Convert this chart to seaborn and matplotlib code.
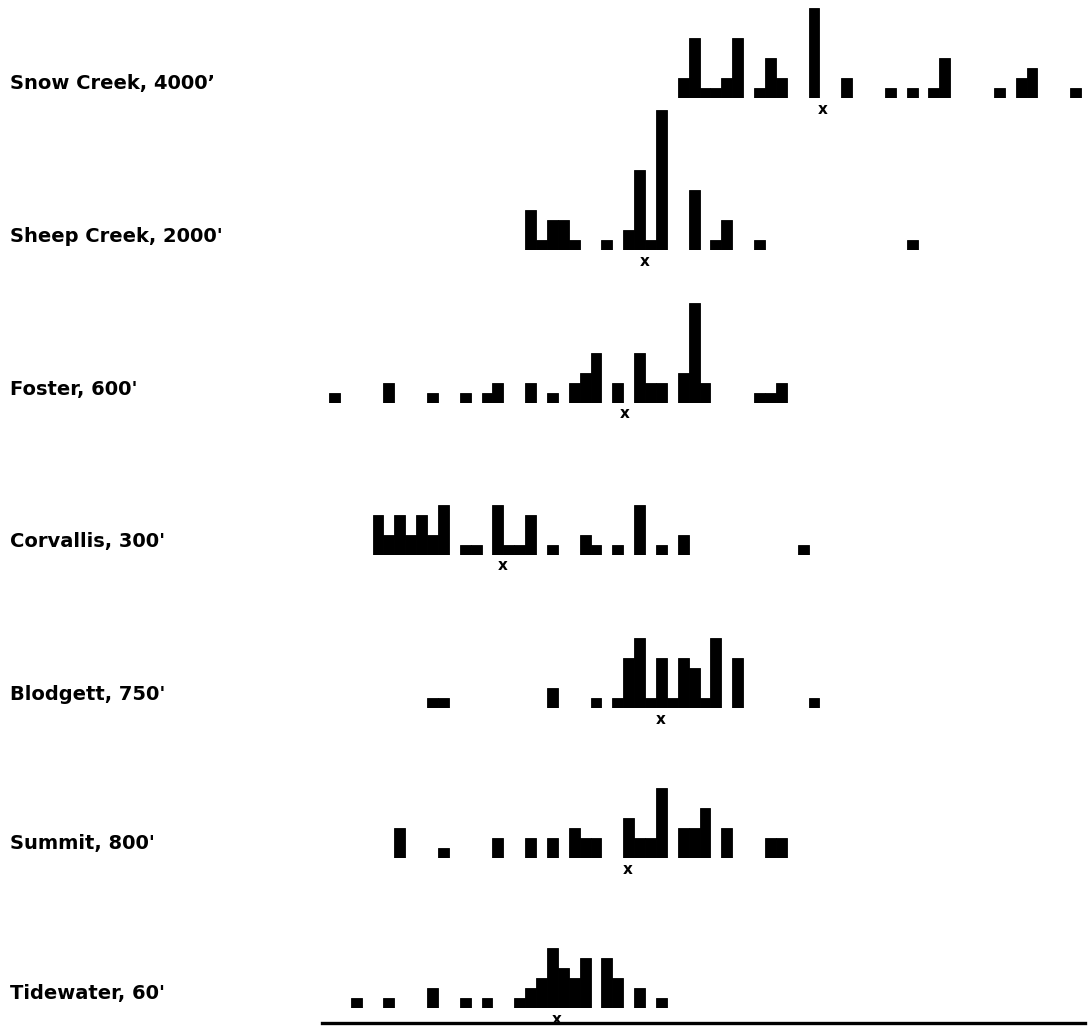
import matplotlib
matplotlib.use("Agg")
import matplotlib.pyplot as plt
import matplotlib.transforms as mtransforms
import pandas as pd
import seaborn as sns

# Station labels (top to bottom)
stations = ["Snow Creek, 4000’", "Sheep Creek, 2000'", "Foster, 600'",
            "Corvallis, 300'", "Blodgett, 750'", "Summit, 800'", "Tidewater, 60'"]

# Frequency per class (class index -> count) for each station
snow_bins = [12, 13, 14, 15, 16, 17, 19, 20, 21, 24, 27, 31, 33, 35, 36, 41, 43, 44, 48]
snow_counts = [2, 6, 1, 1, 2, 6, 1, 4, 2, 9, 2, 1, 1, 1, 4, 1, 2, 3, 1]

sheep_bins = [-2, -1, 0, 1, 2, 5, 7, 8, 9, 10, 13, 15, 16, 19, 33]
sheep_counts = [4, 1, 3, 3, 1, 1, 2, 8, 1, 14, 6, 1, 3, 1, 1]

foster_bins = [-20, -15, -11, -8, -6, -5, -2, 0, 2, 3, 4, 6, 8, 9, 10, 12, 13, 14, 19, 20, 21]
foster_counts = [1, 2, 1, 1, 1, 2, 2, 1, 2, 3, 5, 2, 5, 2, 2, 3, 10, 2, 1, 1, 2]

corvallis_bins = [-16, -15, -14, -13, -12, -11, -10, -8, -7, -5, -4, -3, -2, 0, 3, 4, 6, 8, 10, 12, 23]
corvallis_counts = [4, 2, 4, 2, 4, 2, 5, 1, 1, 5, 1, 1, 4, 1, 2, 1, 1, 5, 1, 2, 1]

blodgett_bins = [-11, -10, 0, 4, 6, 7, 8, 9, 10, 11, 12, 13, 14, 15, 17, 24]
blodgett_counts = [1, 1, 2, 1, 1, 5, 7, 1, 5, 1, 5, 4, 1, 7, 5, 1]

summit_bins = [-14, -10, -5, -2, 0, 2, 3, 4, 7, 8, 9, 10, 12, 13, 14, 16, 20, 21]
summit_counts = [3, 1, 2, 2, 2, 3, 2, 2, 4, 2, 2, 7, 3, 3, 5, 3, 2, 2]

tidewater_bins = [-18, -15, -11, -8, -6, -3, -2, -1, 0, 1, 2, 3, 5, 6, 8, 10]
tidewater_counts = [1, 1, 2, 1, 1, 1, 2, 3, 6, 4, 3, 5, 5, 3, 2, 1]

# Station means (class units), marked with an "x"
station_means = [24.8, 8.5, 6.66, -4.6, 9.9, 6.9, 0.4]

series = [
    (snow_bins, snow_counts),
    (sheep_bins, sheep_counts),
    (foster_bins, foster_counts),
    (corvallis_bins, corvallis_counts),
    (blodgett_bins, blodgett_counts),
    (summit_bins, summit_counts),
    (tidewater_bins, tidewater_counts),
]

sns.set_style("white")
plt.rcParams["font.family"] = ["DejaVu Sans"]

W, H = 1090, 1030
fig = plt.figure(figsize=(W / 100, H / 100), dpi=100, facecolor="white")

UNIT = 10.0          # pixels per count
AX_H = 150           # height of each strip in pixels
X_LEFT, X_RIGHT = 322, 1085
XMIN, XMAX = -21.14, 48.86
baselines = [98, 250, 403, 555, 708, 858, 1008]

for i, (name, (bins, counts), mean) in enumerate(zip(stations, series, station_means)):
    base = baselines[i]
    ax = fig.add_axes([X_LEFT / W, (H - base) / H, (X_RIGHT - X_LEFT) / W, AX_H / H])
    ax.patch.set_visible(False)

    df = pd.DataFrame({"cls": bins, "count": counts})
    sns.histplot(data=df, x="cls", weights="count", discrete=True,
                 color="black", alpha=1, edgecolor="black", linewidth=0.6, ax=ax)
    for p in ax.patches:
        if p.get_height() <= 0:
            p.set_visible(False)

    ax.set_xlim(XMIN, XMAX)
    ax.set_ylim(0, AX_H / UNIT)
    ax.set_xticks([])
    ax.set_yticks([])
    ax.set_xlabel("")
    ax.set_ylabel("")
    for side in ["top", "left", "right"]:
        ax.spines[side].set_visible(False)
    if i == len(stations) - 1:
        ax.spines["bottom"].set_position(("outward", 11))
        ax.spines["bottom"].set_linewidth(2.4)
        ax.spines["bottom"].set_color("black")
    else:
        ax.spines["bottom"].set_visible(False)

    # station mean
    ax.text(mean, -1.1, "x", ha="center", va="center", fontsize=11,
            fontweight="bold", color="black", clip_on=False)

    # station label at the left margin
    trans = mtransforms.blended_transform_factory(fig.transFigure, ax.transData)
    ax.text(10 / W, 1.4, name, transform=trans, ha="left", va="center",
            fontsize=14, fontweight="bold", color="black", clip_on=False)

fig.savefig("out.png", dpi=100, facecolor="white")
